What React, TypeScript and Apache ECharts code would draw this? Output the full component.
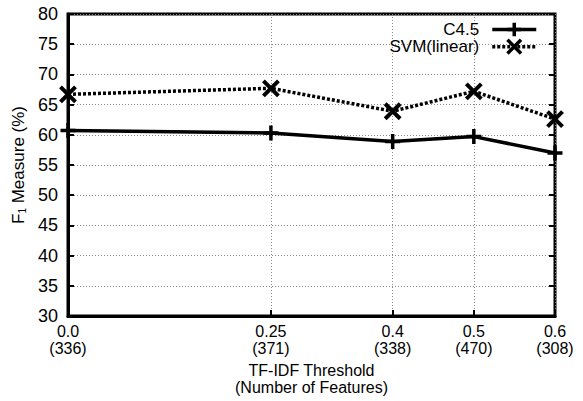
import React, { useEffect, useRef } from "react";
import * as echarts from "echarts";

const thresholds = [0.0, 0.25, 0.4, 0.5, 0.6];
const thresholdLabels = ["0.0", "0.25", "0.4", "0.5", "0.6"];
const featureCounts = [336, 371, 338, 470, 308];
const c45Values = [60.7, 60.3, 58.9, 59.7, 57.0];
const svmValues = [66.7, 67.7, 63.9, 67.2, 62.6];
const seriesNames = ["C4.5", "SVM(linear)"];

const FONT = "'Liberation Sans', Arial, Helvetica, sans-serif";

export default function App() {
  const ref = useRef<HTMLDivElement>(null);
  useEffect(() => {
    if (!ref.current) return;
    const chart = echarts.init(ref.current, null, { renderer: "svg" });
    const labelFor = (v: number) => {
      const i = thresholds.findIndex((t) => Math.abs(t - v) < 1e-9);
      if (i < 0) return "";
      return thresholdLabels[i] + "\n(" + featureCounts[i] + ")";
    };
    const plusPath = "path://M0,-1 L0,1 M-1,0 L1,0";
    const crossPath = "path://M-1,-1 L1,1 M-1,1 L1,-1";
    chart.setOption({
      animation: false,
      backgroundColor: "#fff",
      textStyle: { fontFamily: FONT, color: "#000" },
      grid: {
        left: 68,
        right: 28,
        top: 14,
        bottom: 85,
        show: true,
        borderColor: "#000",
        borderWidth: 3,
        containLabel: false,
      },
      legend: {
        right: 40,
        top: 16,
        orient: "vertical",
        align: "right",
        itemWidth: 44,
        itemHeight: 17,
        itemGap: 0,
        lineStyle: { width: 3.5 },
        itemStyle: { borderWidth: 3.5 },
        textStyle: {
          fontFamily: FONT,
          fontSize: 17,
          color: "#000",
          lineHeight: 17,
          padding: [0, 8, 0, 0],
        },
        data: seriesNames,
      },
      xAxis: {
        type: "value",
        min: 0,
        max: 0.6,
        name: "TF-IDF Threshold\n(Number of Features)",
        nameLocation: "middle",
        nameGap: 46,
        nameTextStyle: { fontFamily: FONT, fontSize: 16, lineHeight: 17, color: "#000" },
        axisLine: { show: true, lineStyle: { color: "#000", width: 3 } },
        axisTick: {
          show: true,
          inside: true,
          length: 6,
          lineStyle: { color: "#000", width: 2 },
          customValues: thresholds,
        },
        axisLabel: {
          show: true,
          customValues: thresholds,
          formatter: (v: number) => labelFor(v),
          fontFamily: FONT,
          fontSize: 16,
          lineHeight: 17,
          color: "#000",
          margin: 7,
          showMinLabel: true,
          showMaxLabel: true,
        },
        splitLine: {
          show: true,
          lineStyle: { color: "#888", type: [1, 2], width: 1 },
        },
      },
      yAxis: [
        {
          type: "value",
          min: 30,
          max: 80,
          interval: 5,
          name: "F{s|1} Measure (%)",
          nameLocation: "middle",
          nameGap: 40,
          nameTextStyle: {
            fontFamily: FONT,
            fontSize: 17,
            color: "#000",
            rich: {
              s: { fontFamily: FONT, fontSize: 10, color: "#000", verticalAlign: "bottom", padding: [8, 0, 0, 0] },
            },
          },
          axisLine: { show: true, lineStyle: { color: "#000", width: 3 } },
          axisTick: { show: true, inside: true, length: 6, lineStyle: { color: "#000", width: 2 } },
          axisLabel: { fontFamily: FONT, fontSize: 18, color: "#000", margin: 10 },
          splitLine: { show: true, lineStyle: { color: "#888", type: [1, 2], width: 1 } },
        },
        {
          type: "value",
          min: 30,
          max: 80,
          interval: 5,
          position: "right",
          axisLine: { show: false },
          axisTick: { show: true, inside: true, length: 6, lineStyle: { color: "#000", width: 2 } },
          axisLabel: { show: false },
          splitLine: { show: false },
        },
      ],
      series: [
        {
          name: seriesNames[0],
          type: "line",
          data: thresholds.map((t, i) => [t, c45Values[i]]),
          symbol: plusPath,
          symbolSize: 15,
          lineStyle: { color: "#000", width: 3.5, type: "solid" },
          itemStyle: { color: "#000", borderColor: "#000", borderWidth: 3.5 },
          z: 5,
        },
        {
          name: seriesNames[1],
          type: "line",
          data: thresholds.map((t, i) => [t, svmValues[i]]),
          symbol: crossPath,
          symbolSize: 15,
          lineStyle: { color: "#000", width: 3.5, type: [3, 2] },
          itemStyle: { color: "#000", borderColor: "#000", borderWidth: 4 },
          z: 5,
        },
      ],
    });
    return () => chart.dispose();
  }, []);
  return (
    <div
      ref={ref}
      style={{ position: "fixed", left: 0, top: 0, width: 583, height: 401 }}
    />
  );
}
